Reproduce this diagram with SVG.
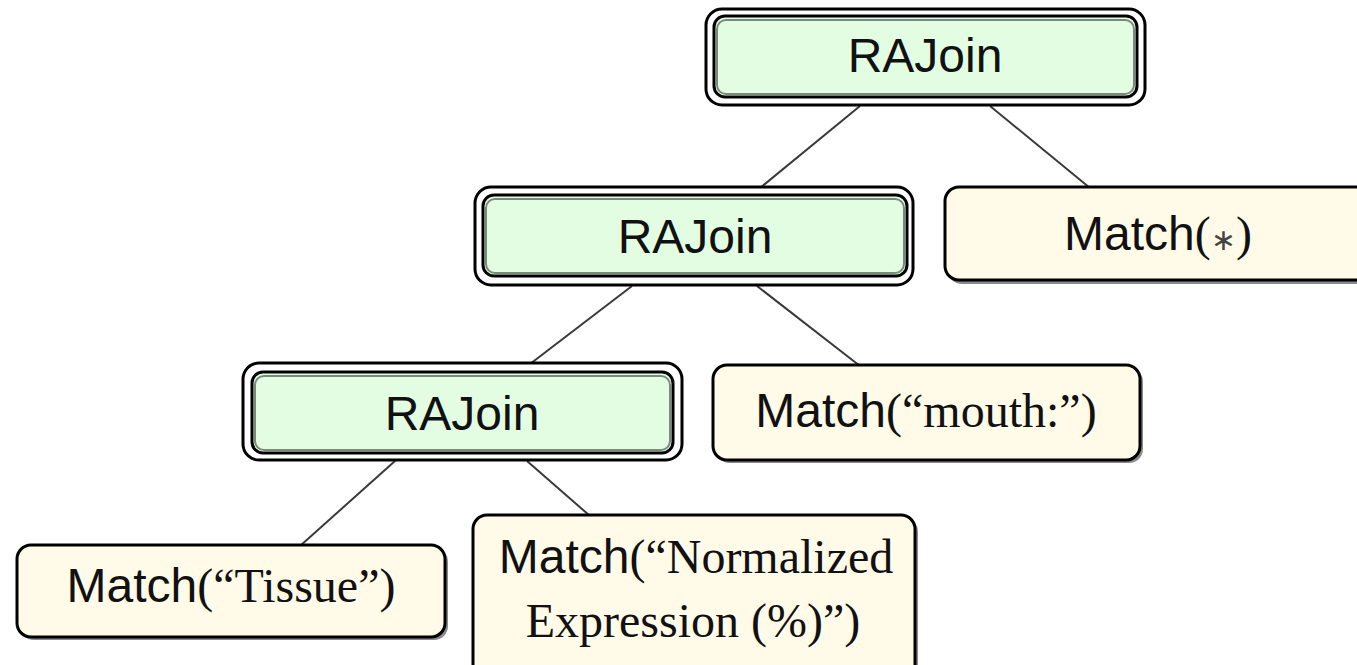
<svg xmlns="http://www.w3.org/2000/svg" width="1357" height="665" viewBox="0 0 1357 665">
  <style>
    .edge { stroke: #3a3a3a; stroke-width: 2; fill: none; }
    .join-outer { fill: #ffffff; stroke: #000; stroke-width: 3; }
    .join-inner { fill: #e3fde3; stroke: #000; stroke-width: 3; }
    .join-shade { fill: none; stroke: #7a8a7a; stroke-width: 2; }
    .match { fill: #fffbe8; stroke: #000; stroke-width: 3; }
    .shadow { fill: #8a8a8a; }
    .lbl { font-size: 48px; fill: #111; text-anchor: middle; }
    .sans { font-family: "Liberation Sans", Arial, sans-serif; }
    .serif { font-family: "Liberation Serif", "Times New Roman", serif; }
    .star { font-family: "DejaVu Sans", sans-serif; font-size: 30px; fill: #444; }
  </style>

  <!-- tree edges -->
  <g id="connectors">
    <line class="edge" x1="860" y1="106" x2="760" y2="188"/>
    <line class="edge" x1="990" y1="106" x2="1090" y2="188"/>
    <line class="edge" x1="632" y1="286" x2="530" y2="364"/>
    <line class="edge" x1="757" y1="286" x2="860" y2="366"/>
    <line class="edge" x1="395" y1="461" x2="300" y2="546"/>
    <line class="edge" x1="527" y1="461" x2="590" y2="516"/>
  </g>

  <!-- root join -->
  <g id="join-root">
    <rect class="join-outer" x="706" y="9" width="439" height="96" rx="16"/>
    <rect class="join-inner" x="714" y="16" width="423" height="81" rx="11"/>
    <rect class="join-shade" x="717" y="20" width="417" height="74" rx="9"/>
    <text class="lbl sans" x="925" y="72">RAJoin</text>
  </g>

  <!-- middle join -->
  <g id="join-mid">
    <rect class="join-outer" x="475" y="187" width="438" height="98" rx="16"/>
    <rect class="join-inner" x="483" y="195" width="424" height="81" rx="11"/>
    <rect class="join-shade" x="486" y="199" width="418" height="74" rx="9"/>
    <text class="lbl sans" x="695" y="253">RAJoin</text>
  </g>

  <!-- lower join -->
  <g id="join-low">
    <rect class="join-outer" x="243" y="363" width="439" height="97" rx="16"/>
    <rect class="join-inner" x="252" y="372" width="421" height="81" rx="11"/>
    <rect class="join-shade" x="255" y="376" width="415" height="74" rx="9"/>
    <text class="lbl sans" x="462" y="430">RAJoin</text>
  </g>

  <!-- match: any -->
  <g id="match-any">
    <rect class="shadow" x="948" y="190" width="430" height="94" rx="14"/>
    <rect class="match" x="945" y="187" width="430" height="93" rx="14"/>
    <text class="lbl" x="1158" y="250"><tspan class="sans">Match</tspan><tspan class="serif">(</tspan><tspan class="star">∗</tspan><tspan class="serif">)</tspan></text>
  </g>

  <!-- match: mouth -->
  <g id="match-mouth">
    <rect class="shadow" x="716" y="368" width="427" height="95" rx="14"/>
    <rect class="match" x="713" y="365" width="427" height="95" rx="14"/>
    <text class="lbl" x="926" y="427"><tspan class="sans">Match</tspan><tspan class="serif">(“mouth:”)</tspan></text>
  </g>

  <!-- match: tissue -->
  <g id="match-tissue">
    <rect class="shadow" x="20" y="548" width="428" height="92" rx="14"/>
    <rect class="match" x="17" y="545" width="428" height="92" rx="14"/>
    <text class="lbl" x="231" y="602"><tspan class="sans">Match</tspan><tspan class="serif">(“Tissue”)</tspan></text>
  </g>

  <!-- match: normalized expression -->
  <g id="match-expr">
    <rect class="shadow" x="476" y="518" width="442" height="170" rx="14"/>
    <rect class="match" x="473" y="515" width="442" height="170" rx="14"/>
    <text class="lbl" x="696" y="573"><tspan class="sans">Match</tspan><tspan class="serif">(“Normalized</tspan></text>
    <text class="lbl serif" x="693" y="637">Expression (%)”)</text>
  </g>
</svg>
